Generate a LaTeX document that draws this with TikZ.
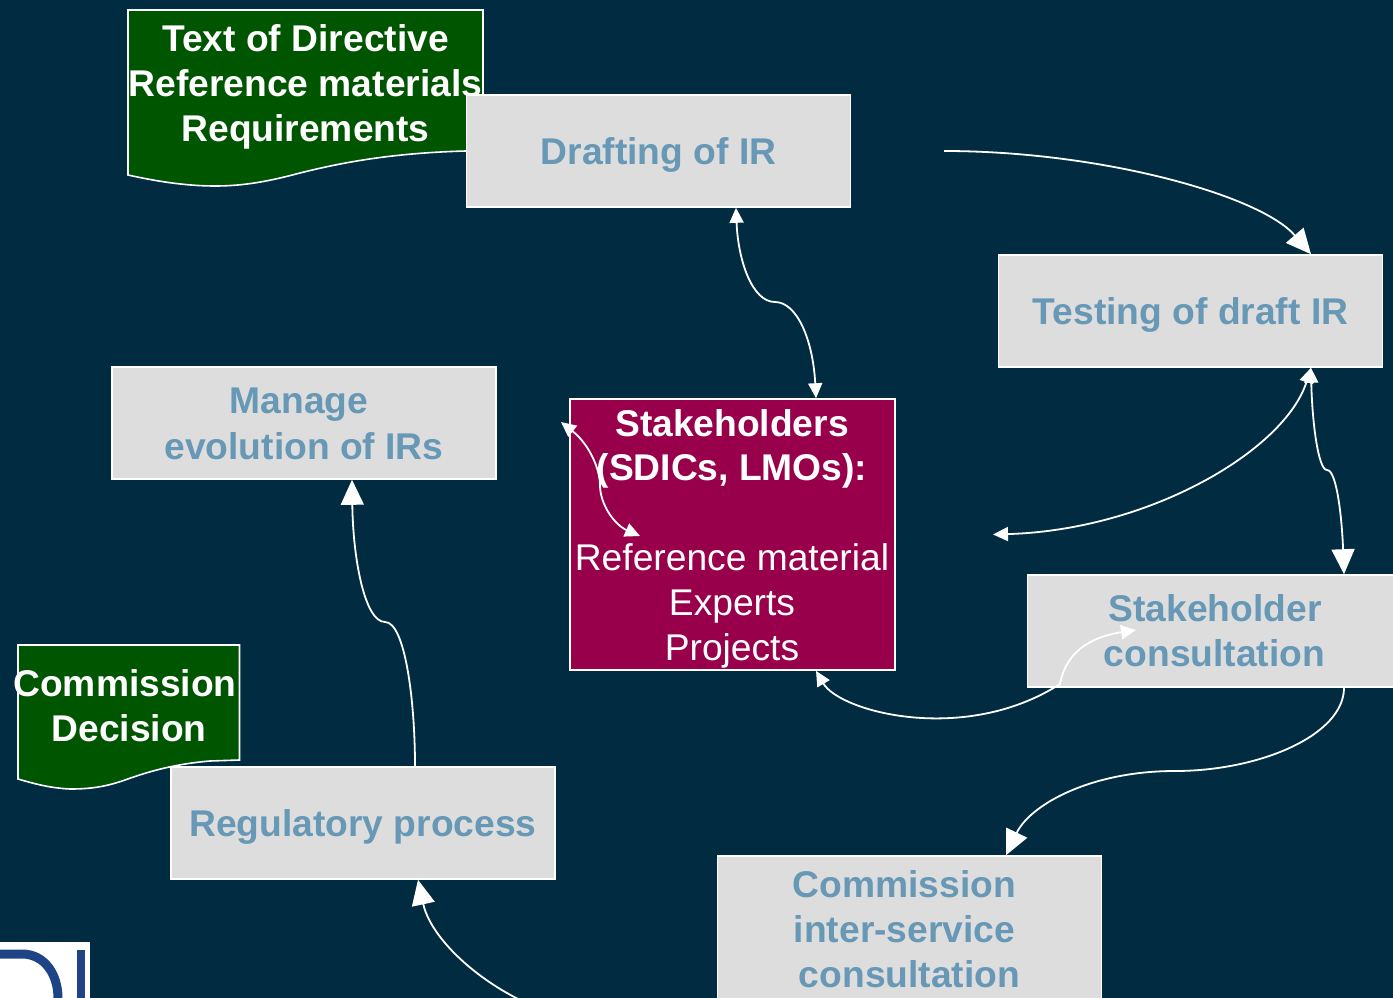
\documentclass[tikz,border=0pt]{standalone}
\usepackage{fontspec}
\setmainfont{Liberation Sans}
\usetikzlibrary{arrows.meta}
\usetikzlibrary{positioning}
\definecolor{bgblue}{HTML}{002B40}
\definecolor{boxgray}{HTML}{DDDDDD}
\definecolor{boxtext}{HTML}{6798B5}
\definecolor{docgreen}{HTML}{005500}
\definecolor{stakered}{HTML}{99004B}
\definecolor{logoblue}{HTML}{1F4485}

\begin{document}
\begin{tikzpicture}[
		x=1pt,
		y=-1pt,
		font=\fontsize{37.2pt}{44.7pt}\selectfont,
	]
		\tikzset{procbox/.style={
			draw=white,
			line width=1.6,
			fill=boxgray,
			rectangle,
			text=boxtext,
			align=center,
			font=\fontsize{37.2pt}{44.7pt}\selectfont\bfseries,
			minimum width=384,
			minimum height=112,
			inner sep=0,
		}}
		\tikzset{doctext/.style={
			text=white,
			align=center,
			font=\fontsize{37.2pt}{44.7pt}\selectfont\bfseries,
			inner sep=0,
		}}
		\tikzset{docshape/.style={
			draw=white,
			line width=1.6,
			fill=docgreen,
		}}
		\tikzset{bigarrow/.style={
			draw=white,
			line width=1.8,
			-{Triangle[length=25,width=23]},
		}}
		\tikzset{smallarrow/.style={
			draw=white,
			line width=1.8,
			{Triangle[length=15,width=14]}-{Triangle[length=15,width=14]},
		}}
		\tikzset{mixedarrow/.style={
			draw=white,
			line width=1.8,
			{Triangle[length=15,width=14]}-{Triangle[length=25,width=23]},
		}}

		\useasboundingbox (0,0) rectangle (1393,998);
		\clip (0,0) rectangle (1393,998);
		\fill[bgblue] (0,0) rectangle (1393,998);

		%---------------------------------
		% Documents
		\draw[docshape] (128,10) -- (483,10) -- (483,151) -- (466,151)
			.. controls (390,153) and (340,163) .. (300,173)
			.. controls (270,181) and (245,186) .. (215,186)
			.. controls (185,186) and (155,181) .. (128,175) -- cycle;
		\draw[docshape] (18,645) -- (239.5,645) -- (239.5,760) -- (210,761)
			.. controls (175,764) and (150,771) .. (125,780)
			.. controls (105,787) and (90,789) .. (70,789)
			.. controls (50,788) and (35,784) .. (18,779) -- cycle;

		\node[doctext] (directive) at (305.5,87) {Text of Directive\\Reference materials\\Requirements};
		\node[doctext] (decision) at (125,705.5) {Commission\\\hspace*{8pt}Decision};

		%---------------------------------
		% Process boxes
		\node[procbox,text depth=0] (drafting) at (658.5,151) {Drafting of IR};
		\node[procbox,text depth=0] (testing) at (1190.5,311) {Testing of draft IR};
		\node[procbox] (manage) at (304,423) {};
		\node[doctext,text=boxtext] (managelabel) at (304,424) {Manage\hspace*{10pt}\\[1pt]evolution of IRs};
		\node[procbox] (consult) at (1219.5,631) {\hspace*{-9pt}Stakeholder\\\hspace*{-10pt}consultation};
		\node[procbox,text depth=0] (regulatory) at (363,823) {Regulatory process};
		\node[
			procbox,
			minimum height=224,
		] (interservice) at (909.5,968) {};
		\node[doctext,text=boxtext] (interlabel) at (909.5,929) {\hspace*{-10pt}Commission\\\hspace*{-10pt}inter-service\\consultation};

		%---------------------------------
		% Stakeholders
		\node[
			draw=white,
			line width=1.6,
			fill=stakered,
			rectangle,
			minimum width=325,
			minimum height=271,
			inner sep=0,
		] (stake) at (732.5,534.5) {};
		\node[doctext] (staketitle) at (732,449) {Stakeholders\\(SDICs, LMOs):};
		\node[
			doctext,
			font=\fontsize{37.2pt}{44.7pt}\selectfont,
		] (stakelist) at (732,606) {Reference material\\Experts\\Projects};

		%---------------------------------
		% Free ends
		\coordinate (draftout) at (944,151);
		\coordinate (testback) at (993,534.5);
		\coordinate (consultin) at (1136,630);
		\coordinate (innerup) at (561,422);
		\coordinate (innerdown) at (640,536);
		\coordinate (regin) at (520,1000);

		%---------------------------------
		% Connectors
		\draw[bigarrow] (draftout) .. controls (1100,151) and (1260,195) .. (testing.north -| 1311,0);
		\draw[smallarrow] (drafting.south -| 736,0)
			.. controls (738,260) and (752,302) .. (775,302)
			.. controls (797,302) and (813,340) .. (stake.north -| 816,0);
		\draw[smallarrow] (testing.south -| 1311,0)
			.. controls (1285,450) and (1150,530) .. (testback);
		\draw[mixedarrow] (testing.south -| 1311,0)
			.. controls (1312,420) and (1318,470) .. (1327,470)
			.. controls (1337,470) and (1342,520) .. (consult.north -| 1344,0);
		\draw[smallarrow] (stake.south -| 816,0)
			.. controls (840,712) and (965,745) .. (1060,684)
			.. controls (1066,652) and (1090,637) .. (consultin);
		\draw[bigarrow] (consult.south -| 1344,0)
			.. controls (1344,735) and (1260,771) .. (1175,771)
			.. controls (1090,771) and (1030,805) .. (interservice.north -| 1006,0);
		\draw[bigarrow] (regulatory.north -| 415,0)
			.. controls (415,700) and (405,622) .. (385,622)
			.. controls (365,622) and (353,560) .. (manage.south -| 352,0);
		\draw[smallarrow] (innerup)
			.. controls (590,445) and (600,470) .. (600,485)
			.. controls (600,505) and (615,525) .. (innerdown);
		\draw[bigarrow] (regin) .. controls (470,975) and (430,935) .. (regulatory.south -| 418,0);

		%---------------------------------
		% Logo
		\fill[white] (0,942) rectangle (90,998);
		\draw[logoblue,line width=9] (0,954) -- (22,954) .. controls (45,954) and (58,975) .. (58,998);
		\fill[logoblue] (77,950) rectangle (85,998);
	\end{tikzpicture}
\end{document}
